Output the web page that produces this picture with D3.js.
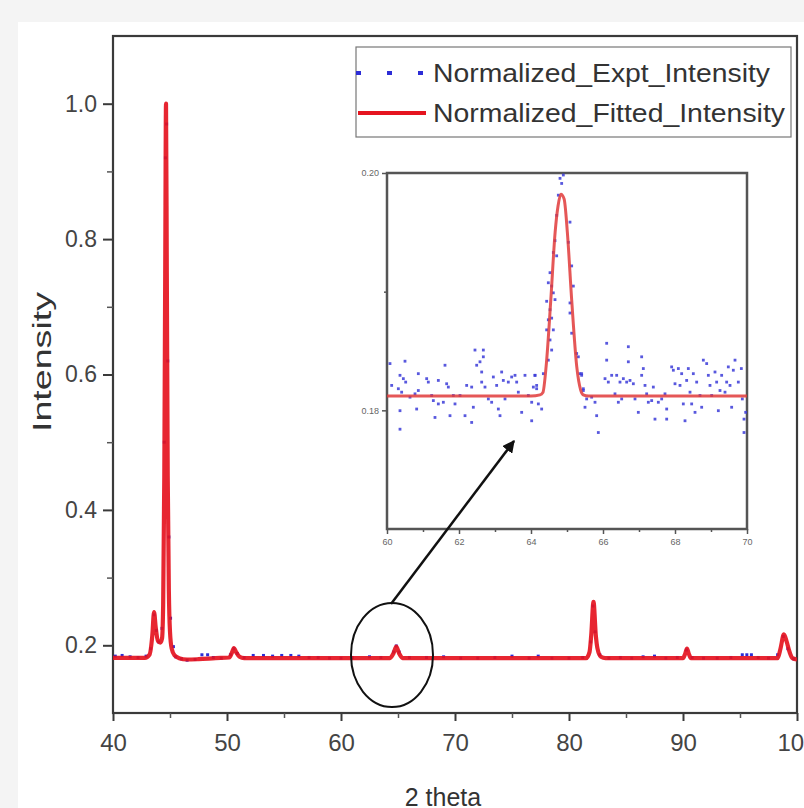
<!DOCTYPE html>
<html><head><meta charset="utf-8">
<script src="https://cdnjs.cloudflare.com/ajax/libs/d3/7.8.5/d3.min.js"></script>
<style>
html,body{margin:0;padding:0;background:#f4f4f4;}
svg{display:block;}
text{font-family:"Liberation Sans",Arial,sans-serif;}
</style></head>
<body>
<script>
// ---------- DATA ----------
// Main plot: fitted curve (2 theta, intensity)
const fitX = [40,42.8,43.2,43.45,43.6,43.75,43.95,44.15,44.3,44.4,44.5,44.58,44.65,44.72,44.8,44.9,45.0,45.15,45.4,45.8,46.5,47.5,49.0,50.2,50.45,50.6,50.8,51.1,51.5,64.3,64.6,64.85,65.1,65.4,81.5,81.8,81.95,82.15,82.35,82.5,82.8,83.2,90.0,90.2,90.35,90.5,90.7,98.3,98.55,98.85,99.1,99.35,99.6,100];
const fitY = [0.1815,0.1815,0.186,0.215,0.249,0.226,0.206,0.204,0.21,0.26,0.45,0.75,1.0,0.75,0.45,0.28,0.22,0.195,0.185,0.181,0.179,0.1795,0.181,0.182,0.19,0.196,0.19,0.183,0.181,0.1812,0.188,0.198,0.188,0.1812,0.181,0.19,0.215,0.264,0.215,0.195,0.183,0.181,0.181,0.188,0.195,0.188,0.181,0.181,0.195,0.216,0.205,0.19,0.181,0.179];
// Main plot: experimental points
const exptX = [40.2,40.8,41.5,42.2,42.9,43.3,43.6,43.8,44.0,44.3,44.5,44.6,44.7,44.8,44.9,45.05,45.3,45.5,46.0,46.5,47.2,47.8,48.3,48.8,49.5,50.3,50.6,50.9,51.5,52.3,53.2,54.0,54.8,55.6,56.3,57.2,58.0,59.0,60.0,61.0,62.5,63.5,64.6,64.85,65.1,66.0,67.5,69.0,70.5,72.0,73.5,75.0,76.5,77.3,78.5,80.0,81.2,81.9,82.1,82.3,82.7,83.5,84.5,85.5,86.5,87.5,88.5,89.5,90.3,90.8,91.8,93.0,94.2,95.2,95.6,96.0,96.6,97.5,98.3,98.8,99.2,99.7];
const exptY = [0.184,0.185,0.183,0.182,0.184,0.195,0.245,0.222,0.205,0.225,0.5,0.92,0.97,0.62,0.36,0.24,0.198,0.183,0.18,0.178,0.179,0.186,0.186,0.182,0.181,0.186,0.195,0.188,0.182,0.185,0.185,0.184,0.185,0.185,0.184,0.182,0.182,0.181,0.181,0.182,0.183,0.182,0.19,0.199,0.19,0.182,0.182,0.183,0.181,0.181,0.182,0.184,0.181,0.184,0.181,0.181,0.182,0.205,0.258,0.22,0.186,0.181,0.182,0.181,0.183,0.184,0.181,0.182,0.193,0.182,0.181,0.181,0.182,0.186,0.186,0.186,0.182,0.181,0.186,0.213,0.195,0.18];
// Inset: fitted curve
const insFitX = [60.0,64.0,64.25,64.33,64.42,64.55,64.67,64.75,64.83,64.92,65.01,65.13,65.27,65.38,65.45,65.6,70.0];
const insFitY = [0.1812,0.1812,0.1813,0.1815,0.1837,0.1893,0.1950,0.1972,0.1982,0.1978,0.1950,0.1893,0.1837,0.1817,0.1813,0.1812,0.1812];
// Inset: experimental points
const insX = [60.083,60.5,60.361,60.13,60.315,60.454,60.519,60.407,60.361,60.361,60.639,60.778,60.87,60.87,60.824,61.102,61.148,61.241,61.287,61.333,61.426,61.426,61.611,61.657,61.565,61.704,61.75,61.843,61.889,62.028,62.167,62.213,62.352,62.398,62.352,62.444,62.491,62.583,62.676,62.676,62.63,62.63,62.722,62.815,62.907,62.954,63.046,63.093,63.139,63.185,63.231,63.278,63.37,63.463,63.556,63.602,63.648,63.741,63.833,63.926,64.019,64.019,64.111,64.157,64.204,64.296,
 64.806,64.852,64.898,64.759,64.713,64.667,64.62,64.713,64.528,64.481,64.574,64.62,64.667,64.435,64.528,64.574,64.481,64.435,64.62,64.528,64.574,64.481,64.343,64.111,64.065,64.157,65.083,65.037,65.13,65.176,65.083,65.083,65.13,65.269,65.361,65.407,65.454,
 65.315,65.407,65.454,65.546,65.5,65.685,65.778,65.824,65.87,66.102,66.102,66.056,66.148,66.241,66.333,66.38,66.472,66.426,66.519,66.565,66.657,66.704,66.704,66.75,66.843,66.889,66.981,67.074,67.12,67.074,67.167,67.213,67.259,67.398,67.444,67.352,67.537,67.63,67.722,67.769,67.769,67.907,67.954,68.0,68.093,68.139,68.185,68.231,68.278,68.324,68.37,68.417,68.463,68.509,68.556,68.602,68.694,68.741,68.787,68.88,68.926,68.972,69.019,69.111,69.157,69.204,69.25,69.296,69.389,69.435,69.481,69.528,69.574,69.62,69.667,69.759,69.843,69.87,69.917,69.917,69.963];
const insY = [0.18394,0.18414,0.18295,0.1821,0.18182,0.18267,0.18238,0.18153,0.17997,0.17841,0.18111,0.18139,0.18309,0.18167,0.18011,0.18267,0.18238,0.18125,0.18082,0.1794,0.18252,0.18054,0.1838,0.18224,0.18068,0.18196,0.17955,0.18125,0.18054,0.18125,0.17955,0.1821,0.18196,0.18026,0.17898,0.18508,0.1838,0.18409,0.18508,0.18451,0.18323,0.18238,0.18196,0.18096,0.18068,0.18281,0.1821,0.18011,0.17955,0.18323,0.18252,0.18096,0.18238,0.18281,0.18295,0.18238,0.18153,0.17983,0.18295,0.18125,0.18068,0.17912,0.18295,0.1821,0.18054,0.18011,
 0.19955,0.19912,0.19983,0.19813,0.19643,0.1943,0.1933,0.19302,0.1916,0.19075,0.19047,0.1899,0.18933,0.18919,0.18848,0.18777,0.18763,0.18678,0.18678,0.18593,0.18508,0.18423,0.18309,0.18295,0.18196,0.18182,0.19586,0.19416,0.19217,0.19047,0.18905,0.1882,0.1865,0.18479,0.18309,0.18295,0.18182,
 0.18451,0.18309,0.18167,0.18096,0.18026,0.18111,0.18068,0.17955,0.17813,0.18565,0.18423,0.18267,0.18238,0.18295,0.18139,0.18295,0.18238,0.18068,0.18096,0.18267,0.18238,0.18536,0.18409,0.18252,0.18224,0.18096,0.17983,0.18451,0.18352,0.18295,0.1821,0.18139,0.18068,0.18196,0.17926,0.18082,0.18068,0.18096,0.18139,0.18011,0.17926,0.18366,0.18338,0.18224,0.18352,0.1821,0.18309,0.18054,0.17912,0.18252,0.18352,0.18153,0.18054,0.18309,0.17983,0.18238,0.18125,0.18026,0.18423,0.18394,0.18295,0.1821,0.18125,0.18323,0.18238,0.17997,0.18167,0.18295,0.18153,0.18238,0.18366,0.1821,0.18026,0.18338,0.18423,0.18238,0.18352,0.18096,0.17926,0.17813,0.17983];
// Ticks & labels
const xTicks = [40,50,60,70,80,90,100];
const yTicks = [0.2,0.4,0.6,0.8,1.0];
const insXTicks = [60,62,64,66,68,70];
const insYTicks = [0.18,0.20];
const legendLabels = ["Normalized_Expt_Intensity","Normalized_Fitted_Intensity"];
const xTitle = "2 theta", yTitle = "Intensity";

// ---------- DRAW ----------
const W = 804, H = 808;
const svg = d3.select("body").append("svg").attr("width",W).attr("height",H);
svg.append("rect").attr("x",18).attr("y",22).attr("width",W-18).attr("height",H-22).attr("fill","#fff");

const L=113, R=797, T=36, B=713;
const x = d3.scaleLinear().domain([40,100]).range([L,R]);
const y = d3.scaleLinear().domain([0.1,1.1]).range([B,T]);
const axisCol = "#3a3a3a";
const red = "#e5141f", blue = "#2d2dd6";

// frame
svg.append("rect").attr("x",L).attr("y",T).attr("width",R-L).attr("height",B-T)
  .attr("fill","none").attr("stroke",axisCol).attr("stroke-width",2.2);

// x axis
const gx = svg.append("g").attr("transform",`translate(0,${B})`)
  .call(d3.axisBottom(x).tickValues(xTicks).tickSize(8).tickPadding(13).tickFormat(d3.format("d")));
svg.append("g").attr("transform",`translate(0,${B})`)
  .call(d3.axisBottom(x).tickValues(d3.range(45,100,10)).tickSize(5).tickFormat(""));
// y axis
const gy = svg.append("g").attr("transform",`translate(${L},0)`)
  .call(d3.axisLeft(y).tickValues(yTicks).tickSize(10).tickPadding(6).tickFormat(d3.format(".1f")));
svg.append("g").attr("transform",`translate(${L},0)`)
  .call(d3.axisLeft(y).tickValues([0.3,0.5,0.7,0.9]).tickSize(6).tickFormat(""));
svg.selectAll(".domain").remove();
svg.selectAll(".tick line").attr("stroke",axisCol).attr("stroke-width",2);
gx.selectAll("text").attr("font-size",24).attr("fill","#444");
gy.selectAll("text").attr("font-size",23).attr("fill","#444");

// titles
svg.append("text").attr("x",443).attr("y",806).attr("text-anchor","middle")
  .attr("font-size",25).attr("fill","#333").text(xTitle);
svg.append("text").attr("transform","translate(51,362) rotate(-90)").attr("text-anchor","middle")
  .attr("font-size",25).attr("fill","#333")
  .attr("textLength",140).attr("lengthAdjust","spacingAndGlyphs").text(yTitle);

// main data
svg.append("clipPath").attr("id","cm").append("rect").attr("x",L).attr("y",T).attr("width",R-L).attr("height",B-T);
const mg = svg.append("g").attr("clip-path","url(#cm)");
mg.selectAll("rect.pt").data(exptX.map((d,i)=>[d,exptY[i]])).join("rect")
  .attr("x",d=>x(d[0])-1.5).attr("y",d=>y(d[1])-1.5).attr("width",3).attr("height",3).attr("fill",blue);
const line = d3.line().x(d=>x(d[0])).y(d=>y(d[1])).curve(d3.curveMonotoneX);
mg.append("path").datum(fitX.map((d,i)=>[d,fitY[i]])).attr("d",line)
  .attr("fill","none").attr("stroke",red).attr("stroke-width",4.2).attr("stroke-linejoin","round").attr("opacity",0.92);

// legend
svg.append("rect").attr("x",356).attr("y",47).attr("width",435).attr("height",90)
  .attr("fill","#fff").attr("stroke","#777").attr("stroke-width",1.2);
svg.append("line").attr("x1",356).attr("x2",428).attr("y1",73).attr("y2",73)
  .attr("stroke",blue).attr("stroke-width",4).attr("stroke-dasharray","5,26");
svg.append("line").attr("x1",358).attr("x2",426).attr("y1",113).attr("y2",113)
  .attr("stroke",red).attr("stroke-width",4);
svg.append("text").attr("x",433).attr("y",82).attr("font-size",25).attr("fill","#333")
  .attr("textLength",337).attr("lengthAdjust","spacingAndGlyphs").text(legendLabels[0]);
svg.append("text").attr("x",433).attr("y",122).attr("font-size",25).attr("fill","#333")
  .attr("textLength",352).attr("lengthAdjust","spacingAndGlyphs").text(legendLabels[1]);

// inset
const iL=387, iR=747, iT=173, iB=529;
const ix = d3.scaleLinear().domain([60,70]).range([iL,iR]);
const iy = d3.scaleLinear().domain([0.17,0.20]).range([iB,iT]);
svg.append("rect").attr("x",iL).attr("y",iT).attr("width",iR-iL).attr("height",iB-iT)
  .attr("fill","#fff").attr("stroke","#555").attr("stroke-width",2.5);
const igx = svg.append("g").attr("transform",`translate(0,${iB})`)
  .call(d3.axisBottom(ix).tickValues(insXTicks).tickSize(5).tickPadding(5).tickFormat(d3.format("d")));
svg.append("g").attr("transform",`translate(0,${iB})`)
  .call(d3.axisBottom(ix).tickValues([61,63,65,67,69]).tickSize(3).tickFormat(""));
const igy = svg.append("g").attr("transform",`translate(${iL},0)`)
  .call(d3.axisLeft(iy).tickValues(insYTicks).tickSize(5).tickPadding(3).tickFormat(d3.format(".2f")));
svg.append("g").attr("transform",`translate(${iL},0)`)
  .call(d3.axisLeft(iy).tickValues([0.19]).tickSize(3).tickFormat(""));
svg.selectAll(".domain").remove();
igx.selectAll("text").attr("font-size",9).attr("fill","#666");
igy.selectAll("text").attr("font-size",9).attr("fill","#666");
svg.selectAll(".tick line").attr("stroke","#555").attr("stroke-width",1.5);
gx.selectAll(".tick line").attr("stroke",axisCol).attr("stroke-width",2);
gy.selectAll(".tick line").attr("stroke",axisCol).attr("stroke-width",2);

svg.append("clipPath").attr("id","ci").append("rect").attr("x",iL).attr("y",iT-4).attr("width",iR-iL).attr("height",iB-iT+4);
const ig = svg.append("g").attr("clip-path","url(#ci)");
ig.selectAll("rect").data(insX.map((d,i)=>[d,insY[i]])).join("rect")
  .attr("x",d=>ix(d[0])-1.4).attr("y",d=>iy(d[1])-1.4).attr("width",2.8).attr("height",2.8)
  .attr("fill","#3b3bd8").attr("opacity",0.85);
const iline = d3.line().x(d=>ix(d[0])).y(d=>iy(d[1])).curve(d3.curveMonotoneX);
ig.append("path").datum(insFitX.map((d,i)=>[d,insFitY[i]])).attr("d",iline)
  .attr("fill","none").attr("stroke","#e03a3a").attr("stroke-width",3).attr("opacity",0.85);

// annotation: ellipse + arrow
svg.append("ellipse").attr("cx",392).attr("cy",655).attr("rx",41).attr("ry",52)
  .attr("fill","none").attr("stroke","#111").attr("stroke-width",2);
svg.append("defs").append("marker").attr("id","ah").attr("viewBox","0 0 10 10")
  .attr("refX",9).attr("refY",5).attr("markerWidth",5).attr("markerHeight",5).attr("orient","auto")
  .append("path").attr("d","M0,0 L10,5 L0,10 Z").attr("fill","#111");
svg.append("line").attr("x1",391).attr("y1",604).attr("x2",514).attr("y2",441)
  .attr("stroke","#111").attr("stroke-width",2.5).attr("marker-end","url(#ah)");
</script>
</body></html>
